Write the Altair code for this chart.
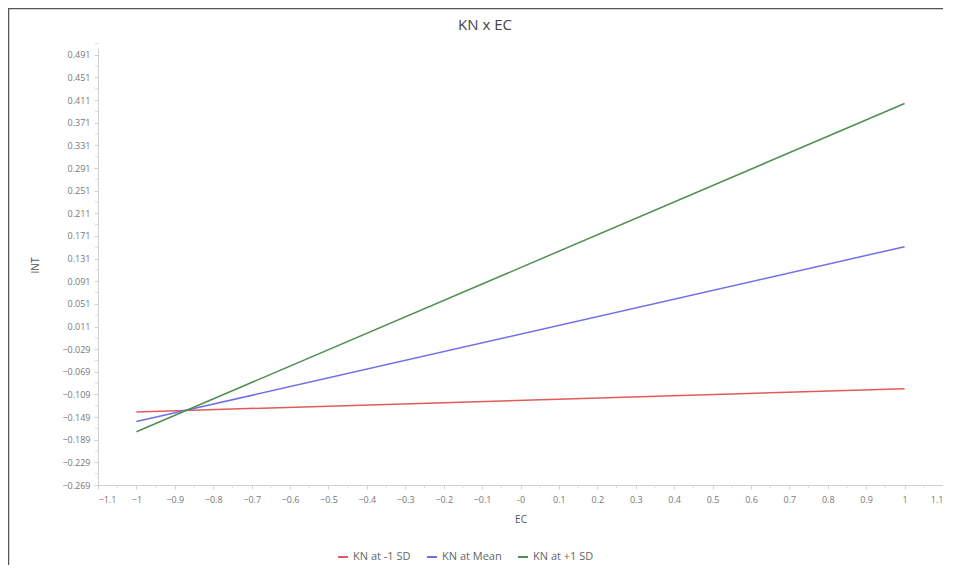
import altair as alt
import pandas as pd

# ---- data ----
chart_title = "KN x EC"
ec_values = [-1, 1]
series_names = ["KN at -1 SD", "KN at Mean", "KN at +1 SD"]
int_minus1sd = [-0.140, -0.099]
int_mean = [-0.157, 0.152]
int_plus1sd = [-0.175, 0.405]
series_colors = ["#e25a5a", "#6f6fea", "#4f8f4f"]

x_tick_values = [round(-1.1 + 0.1 * i, 1) for i in range(23)]
y_tick_values = [round(-0.269 + 0.04 * i, 3) for i in range(20)]
x_minor = [round(v + 0.05, 2) for v in x_tick_values[:-1]]
y_minor = [round(v + 0.02, 3) for v in y_tick_values]

rows = []
for name, vals in zip(series_names, [int_minus1sd, int_mean, int_plus1sd]):
    for x, y in zip(ec_values, vals):
        rows.append({"EC": x, "INT": y, "series": name})
df = pd.DataFrame(rows)

FONT = "Open Sans"
W, H = 845, 437
xscale = alt.Scale(domain=[-1.1, 1.1], nice=False, zero=False)
yscale = alt.Scale(domain=[-0.269, 0.503], nice=False, zero=False)

x_axis = alt.Axis(values=x_tick_values, labelOverlap=False,
                  labelExpr="datum.value == 0 ? '-0' : format(datum.value, '~g')",
                  grid=False, tickSize=4, labelFontSize=9, labelColor="#777",
                  titleFontSize=10, titleColor="#555", titleFontWeight="normal",
                  titlePadding=10, domainColor="#d0d0d0", tickColor="#d0d0d0",
                  labelPadding=6, labelFont=FONT, titleFont=FONT)
y_axis = alt.Axis(values=y_tick_values, format=".3f", labelOverlap=False,
                  grid=False, tickSize=4, labelFontSize=9, labelColor="#777",
                  titleFontSize=10, titleColor="#555", titleFontWeight="normal",
                  titleX=-58, titleY=217, titleAngle=-90,
                  domainColor="#d0d0d0", tickColor="#d0d0d0",
                  labelPadding=4, labelFont=FONT, titleFont=FONT)

lines = alt.Chart(df).mark_line(strokeWidth=1.5, clip=True).encode(
    x=alt.X("EC:Q", scale=xscale, title="EC", axis=x_axis),
    y=alt.Y("INT:Q", scale=yscale, title="INT", axis=y_axis),
    color=alt.Color("series:N", sort=series_names,
                    scale=alt.Scale(domain=series_names, range=series_colors),
                    legend=alt.Legend(title=None, orient="none", direction="horizontal",
                                      legendX=239, legendY=503, symbolType="stroke",
                                      symbolStrokeWidth=2, symbolSize=100,
                                      labelFontSize=11, labelColor="#666",
                                      labelFont=FONT, columnPadding=12)),
)

xminor_df = pd.DataFrame({"v": x_minor})
yminor_df = pd.DataFrame({"v": y_minor})

x_minor_ticks = alt.Chart(xminor_df).mark_rule(color="#dcdcdc").encode(
    x=alt.X("v:Q", scale=xscale, title="EC", axis=x_axis),
    y=alt.value(H), y2=alt.value(H + 3))
y_minor_ticks = alt.Chart(yminor_df).mark_rule(color="#dcdcdc").encode(
    y=alt.Y("v:Q", scale=yscale, title="INT", axis=y_axis),
    x=alt.value(0), x2=alt.value(-3))

one = pd.DataFrame({"t": [chart_title]})
frame_left = alt.Chart(one).mark_rule(color="#555", strokeWidth=1.5).encode(
    x=alt.value(-89.5), y=alt.value(-40), y2=alt.value(520))
frame_top = alt.Chart(one).mark_rule(color="#555", strokeWidth=1.5).encode(
    y=alt.value(-39.5), x=alt.value(-90), x2=alt.value(W))
title_text = alt.Chart(one).mark_text(fontSize=15, color="#444", font=FONT,
                                      baseline="middle", align="center").encode(
    text="t:N", x=alt.value(387), y=alt.value(-23))

chart = alt.layer(lines, x_minor_ticks, y_minor_ticks, frame_left, frame_top, title_text).properties(
    width=W, height=H,
    autosize=alt.AutoSizeParams(type="none"),
    padding={"left": 90, "top": 40, "right": 0, "bottom": 80},
).configure_view(strokeWidth=0, stroke="transparent")

chart.save("out.html", embed_options={"renderer": "svg", "actions": False})
